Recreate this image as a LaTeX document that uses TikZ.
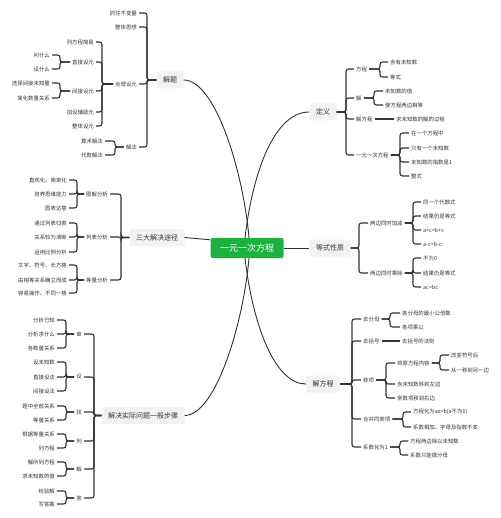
\documentclass[tikz,border=0pt]{standalone}
\usepackage{fontspec}
\setmainfont{Noto Sans CJK SC}
\usepackage{tikz}
\usetikzlibrary{positioning}

\definecolor{rootgreen}{RGB}{28,178,64}
\definecolor{topicgray}{RGB}{242,242,242}
\definecolor{inkgray}{RGB}{51,51,51}

\tikzset{
  root/.style={fill=rootgreen,text=white,rounded corners=2pt,minimum width=73pt,minimum height=20pt,font=\fontsize{9}{10}\selectfont},
  topic/.style={fill=topicgray,text=inkgray,rounded corners=2pt,inner xsep=6.5pt,minimum height=17pt,font=\fontsize{7}{8}\selectfont},
  leaf/.style={text=inkgray,inner xsep=2pt,inner ysep=1pt,font=\fontsize{5.4}{6}\selectfont},
  leafr/.style={leaf,anchor=west},
  leafl/.style={leaf,anchor=east},
  conn/.style={draw=inkgray,line width=1.1pt,rounded corners=2.5pt},
  curve/.style={draw=inkgray,line width=0.9pt},
}

% brackets: parent, x of the bracket, children
\newcommand\brackr[3]{\coordinate (bx) at (#2,0);
  \foreach \ch in {#3} \draw[conn] (#1.east) -- (#1.east -| bx) |- (\ch.west);}
\newcommand\brackl[3]{\coordinate (bx) at (#2,0);
  \foreach \ch in {#3} \draw[conn] (#1.west) -- (#1.west -| bx) |- (\ch.east);}

\begin{document}
\begin{tikzpicture}[x=1pt,y=-1pt]
  \fill[white] (0,0) rectangle (500,518);
  \useasboundingbox (0,0) rectangle (500,518);

  \node at (247,248) [root] (root) {一元一次方程};

  % right: definition
  \node at (323,112) [topic] (define) {定义};
  \node at (354,69) [leafr] (d-eq) {方程};
  \node at (354,98) [leafr] (d-sol) {解};
  \node at (354,119) [leafr] (d-solve) {解方程};
  \node at (354,155) [leafr] (d-lin) {一元一次方程};
  \node at (388,62) [leafr] (d-eq-1) {含有未知数};
  \node at (388,77) [leafr] (d-eq-2) {等式};
  \node at (383,91) [leafr] (d-sol-1) {未知数的值};
  \node at (383,105) [leafr] (d-sol-2) {使方程两边相等};
  \node at (394,119) [leafr] (d-solve-1) {求未知数的解的过程};
  \node at (409,133) [leafr] (d-lin-1) {在一个方程中};
  \node at (409,148) [leafr] (d-lin-2) {只有一个未知数};
  \node at (409,162) [leafr] (d-lin-3) {未知数的指数是1};
  \node at (409,176) [leafr] (d-lin-4) {整式};

  % right: properties
  \node at (330,248) [topic] (prop) {等式性质};
  \node at (368,223) [leafr] (p-add) {两边同时加减};
  \node at (368,273) [leafr] (p-mul) {两边同时乘除};
  \node at (421,202) [leafr] (p-add-1) {同一个代数式};
  \node at (421,216) [leafr] (p-add-2) {结果仍是等式};
  \node at (421,230) [leafr] (p-add-3) {a+c=b+c};
  \node at (421,244) [leafr] (p-add-4) {a-c=b-c};
  \node at (421,258) [leafr] (p-mul-1) {不为0};
  \node at (421,273) [leafr] (p-mul-2) {结果仍是等式};
  \node at (421,287) [leafr] (p-mul-3) {ac=bc};

  % right: solving
  \node at (323,384) [topic] (solve) {解方程};
  \node at (361,319) [leafr] (s-den) {去分母};
  \node at (361,341) [leafr] (s-par) {去括号};
  \node at (361,380) [leafr] (s-move) {移项};
  \node at (361,419) [leafr] (s-comb) {合并同类项};
  \node at (361,447) [leafr] (s-coef) {系数化为1};
  \node at (400,313) [leafr] (s-den-1) {各分母的最小公倍数};
  \node at (400,327) [leafr] (s-den-2) {各项乘以};
  \node at (400,341) [leafr] (s-par-1) {去括号的法则};
  \node at (395,363) [leafr] (s-move-1) {将原方程内容};
  \node at (395,384) [leafr] (s-move-2) {含未知数移到左边};
  \node at (395,398) [leafr] (s-move-3) {常数项移到右边};
  \node at (449,355) [leafr] (s-move-1-1) {改变符号后};
  \node at (449,370) [leafr] (s-move-1-2) {从一移到另一边};
  \node at (411,412) [leafr] (s-comb-1) {方程化为ax=b(a不为0)};
  \node at (411,427) [leafr] (s-comb-2) {系数相加、字母及指数不变};
  \node at (408,441) [leafr] (s-coef-1) {方程两边除以未知数};
  \node at (408,455) [leafr] (s-coef-2) {系数只能做分母};

  % left: tips
  \node at (170,80) [topic] (tips) {解题};
  \node at (139,13) [leafl] (t-const) {抓住不变量};
  \node at (139,27) [leafl] (t-whole) {整体思想};
  \node at (139,84) [leafl] (t-var) {合理设元};
  \node at (139,147) [leafl] (t-meth) {解法};
  \node at (96,42) [leafl] (t-var-1) {列方程简易};
  \node at (96,62) [leafl] (t-var-2) {直接设元};
  \node at (96,91) [leafl] (t-var-3) {间接设元};
  \node at (96,112) [leafl] (t-var-4) {加设辅助元};
  \node at (96,126) [leafl] (t-var-5) {整体设元};
  \node at (52,55) [leafl] (t-var-2-1) {问什么};
  \node at (52,69) [leafl] (t-var-2-2) {设什么};
  \node at (52,83) [leafl] (t-var-3-1) {选择间接未知量};
  \node at (52,98) [leafl] (t-var-3-2) {简化数量关系};
  \node at (105,141) [leafl] (t-meth-1) {算术解法};
  \node at (105,155) [leafl] (t-meth-2) {代数解法};

  % left: three ways
  \node at (157,237.5) [topic] (paths) {三大解决途径};
  \node at (110,194) [leafl] (pa-graph) {图解分析};
  \node at (110,237) [leafl] (pa-table) {列表分析};
  \node at (110,280) [leafl] (pa-equal) {等量分析};
  \node at (69,180) [leafl] (pa-graph-1) {直观化、简单化};
  \node at (69,194) [leafl] (pa-graph-2) {培养思维能力};
  \node at (69,208) [leafl] (pa-graph-3) {图表达意};
  \node at (69,223) [leafl] (pa-table-1) {通过列表归类};
  \node at (69,237) [leafl] (pa-table-2) {关系较为清晰};
  \node at (69,252) [leafl] (pa-table-3) {运用比例分析};
  \node at (69,265) [leafl] (pa-equal-1) {文字、符号、长方格};
  \node at (69,280) [leafl] (pa-equal-2) {由相等关系确立而成};
  \node at (69,293) [leafl] (pa-equal-3) {容易操作、不同一格};

  % left: steps
  \node at (143,415.5) [topic] (steps) {解决实际问题一般步骤};
  \node at (84,334) [leafl] (st-1) {审};
  \node at (84,377) [leafl] (st-2) {设};
  \node at (84,412) [leafl] (st-3) {找};
  \node at (84,441) [leafl] (st-4) {列};
  \node at (84,469) [leafl] (st-5) {解};
  \node at (84,498) [leafl] (st-6) {答};
  \node at (57,320) [leafl] (st-1-1) {分析已知};
  \node at (57,334) [leafl] (st-1-2) {分析求什么};
  \node at (57,348) [leafl] (st-1-3) {各数量关系};
  \node at (57,362) [leafl] (st-2-1) {设未知数};
  \node at (57,377) [leafl] (st-2-2) {直接设法};
  \node at (57,391) [leafl] (st-2-3) {间接设法};
  \node at (57,406) [leafl] (st-3-1) {题中全部关系};
  \node at (57,420) [leafl] (st-3-2) {等量关系};
  \node at (57,434) [leafl] (st-4-1) {根据等量关系};
  \node at (57,448) [leafl] (st-4-2) {列方程};
  \node at (57,462) [leafl] (st-5-1) {解所列方程};
  \node at (57,476) [leafl] (st-5-2) {求未知数的值};
  \node at (57,491) [leafl] (st-6-1) {检验解};
  \node at (57,504) [leafl] (st-6-2) {写答案};

  % from the root
  \draw[curve] ([xshift=2pt]root.north) .. controls (243,170) and (215,80) .. (tips.east);
  \draw[curve] ([xshift=-2pt]root.north) .. controls (253,170) and (275,112) .. (define.west);
  \draw[curve] ([xshift=2pt]root.south) .. controls (243,326) and (215,415.5) .. (steps.east);
  \draw[curve] ([xshift=-2pt]root.south) .. controls (253,326) and (275,384) .. (solve.west);
  \draw[curve] (paths.east) -- ([yshift=-2pt]root.north west);
  \draw[curve] (root.east) -- (prop.west);

  % brackets
  \brackr{define}{346}{d-eq,d-sol,d-solve,d-lin}
  \brackr{d-eq}{380}{d-eq-1,d-eq-2}
  \brackr{d-sol}{374}{d-sol-1,d-sol-2}
  \draw[conn] (d-solve.east) -- (d-solve-1.west);
  \brackr{d-lin}{400}{d-lin-1,d-lin-2,d-lin-3,d-lin-4}
  \brackr{prop}{359}{p-add,p-mul}
  \brackr{p-add}{413}{p-add-1,p-add-2,p-add-3,p-add-4}
  \brackr{p-mul}{413}{p-mul-1,p-mul-2,p-mul-3}
  \brackr{solve}{352}{s-den,s-par,s-move,s-comb,s-coef}
  \brackr{s-den}{390}{s-den-1,s-den-2}
  \draw[conn] (s-par.east) -- (s-par-1.west);
  \brackr{s-move}{386}{s-move-1,s-move-2,s-move-3}
  \brackr{s-move-1}{440}{s-move-1-1,s-move-1-2}
  \brackr{s-comb}{403}{s-comb-1,s-comb-2}
  \brackr{s-coef}{400}{s-coef-1,s-coef-2}

  \brackl{tips}{147}{t-const,t-whole,t-var,t-meth}
  \brackl{t-var}{102}{t-var-1,t-var-2,t-var-3,t-var-4,t-var-5}
  \brackl{t-var-2}{60}{t-var-2-1,t-var-2-2}
  \brackl{t-var-3}{60}{t-var-3-1,t-var-3-2}
  \brackl{t-meth}{115}{t-meth-1,t-meth-2}
  \brackl{paths}{121}{pa-graph,pa-table,pa-equal}
  \brackl{pa-graph}{77}{pa-graph-1,pa-graph-2,pa-graph-3}
  \brackl{pa-table}{77}{pa-table-1,pa-table-2,pa-table-3}
  \brackl{pa-equal}{77}{pa-equal-1,pa-equal-2,pa-equal-3}
  \brackl{steps}{94}{st-1,st-2,st-3,st-4,st-5,st-6}
  \brackl{st-1}{66}{st-1-1,st-1-2,st-1-3}
  \brackl{st-2}{66}{st-2-1,st-2-2,st-2-3}
  \brackl{st-3}{66}{st-3-1,st-3-2}
  \brackl{st-4}{66}{st-4-1,st-4-2}
  \brackl{st-5}{66}{st-5-1,st-5-2}
  \brackl{st-6}{66}{st-6-1,st-6-2}
\end{tikzpicture}
\end{document}
